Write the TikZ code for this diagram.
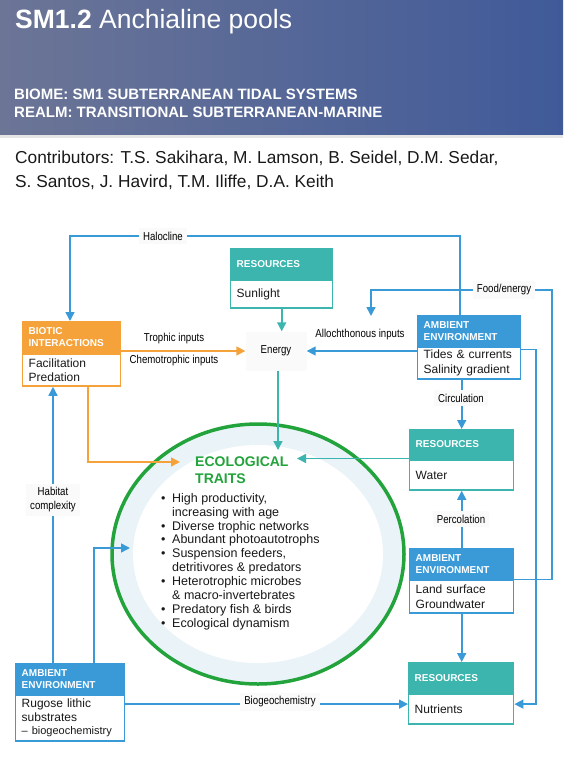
\documentclass[tikz,border=0pt]{standalone}
\usepackage{fontspec}
\setmainfont{Liberation Sans}
\newfontfamily\condfont[FakeStretch=0.84]{Liberation Sans}
\usetikzlibrary{arrows.meta}

\definecolor{envblue}{HTML}{3A9AD8}
\definecolor{resteal}{HTML}{3BB5AD}
\definecolor{bioorange}{HTML}{F5A23B}
\definecolor{traitgreen}{HTML}{23A33B}
\definecolor{ringblue}{HTML}{EAF4F8}
\definecolor{hdleft}{HTML}{6C7596}
\definecolor{hdright}{HTML}{405A99}
\definecolor{lblgray}{HTML}{FAFAFA}

\newcommand\bul{\makebox[11pt][l]{\textbullet}}
\newcommand\ind{\hspace*{11pt}}

\tikzset{
  hd/.style={fill=#1, draw=#1, line width=1.4pt, text=white, anchor=north west, align=left,
    inner sep=0pt, inner xsep=6pt, font=\bfseries\fontsize{10}{12}\selectfont},
  bd/.style={fill=white, draw=#1, line width=1.4pt, text=black!90, anchor=north west, align=left,
    inner sep=0pt, inner xsep=6pt, font=\fontsize{12}{14.5}\selectfont},
  lbl/.style={fill=lblgray, inner sep=4pt, align=center, font=\condfont\fontsize{11.5}{14}\selectfont},
  link/.style={draw=#1, line width=1.6pt, -{Triangle[length=9pt,width=9pt]}},
  link/.default=envblue,
}

\begin{document}
\begin{tikzpicture}[x=1pt,y=-1pt]
\useasboundingbox (0,0) rectangle (563,762);
% header band
\shade[left color=hdleft, right color=hdright] (0,0) rectangle (563,135);
\fill[black!10] (0,135) rectangle (563,138);
\node[anchor=base west, inner sep=0pt, text=white, font=\fontsize{26.5}{30}\selectfont] (title) at (15,29) {\textbf{SM1.2} Anchialine pools};
\node[anchor=base west, inner sep=0pt, text=white, font=\bfseries\fontsize{15}{18}\selectfont] (biome) at (14,100) {BIOME: SM1 SUBTERRANEAN TIDAL SYSTEMS};
\node[anchor=base west, inner sep=0pt, text=white, font=\bfseries\fontsize{15}{18}\selectfont] (realm) at (14,118) {REALM: TRANSITIONAL SUBTERRANEAN-MARINE};
\node[anchor=base west, inner sep=0pt, text=black!90, font=\fontsize{17.3}{23}\selectfont] (contrib1) at (15,164) {Contributors: T.S. Sakihara, M. Lamson, B. Seidel, D.M. Sedar,};
\node[anchor=base west, inner sep=0pt, text=black!90, font=\fontsize{17.3}{23}\selectfont] (contrib2) at (15,187) {S. Santos, J. Havird, T.M. Iliffe, D.A. Keith};

% traits ring
\fill[ringblue] (258,554) ellipse [x radius=146pt, y radius=130pt];
\fill[white] (258,554) ellipse [x radius=125pt, y radius=109pt];
\draw[traitgreen, line width=3.5pt] (258,554) ellipse [x radius=146pt, y radius=130pt];

% boxes
\node[hd=resteal, text width=90pt, minimum height=30pt] (sunhd) at (230,248) {RESOURCES};
\node[bd=resteal, text width=90pt, minimum height=28pt] (sunbd) at (sunhd.south west) {Sunlight};
\node[hd=bioorange, text width=86pt, minimum height=31pt] (biohd) at (22,321) {BIOTIC\\INTERACTIONS};
\node[bd=bioorange, text width=86pt, minimum height=32pt] (biobd) at (biohd.south west) {Facilitation\\Predation};
\node[hd=envblue, text width=91pt, minimum height=30pt] (tidehd) at (417,315) {AMBIENT\\ENVIRONMENT};
\node[bd=envblue, text width=91pt, minimum height=32pt] (tidebd) at (tidehd.south west) {Tides \& currents\\Salinity gradient};
\node[hd=resteal, text width=92pt, minimum height=29pt] (waterhd) at (409,429) {RESOURCES};
\node[bd=resteal, text width=92pt, minimum height=30pt] (waterbd) at (waterhd.south west) {Water};
\node[hd=envblue, text width=92pt, minimum height=30pt] (landhd) at (409,548) {AMBIENT\\ENVIRONMENT};
\node[bd=envblue, text width=92pt, minimum height=33pt] (landbd) at (landhd.south west) {Land surface\\Groundwater};
\node[hd=resteal, text width=93pt, minimum height=30pt] (nutrhd) at (408,662) {RESOURCES};
\node[bd=resteal, text width=93pt, minimum height=30pt] (nutrbd) at (nutrhd.south west) {Nutrients};
\node[hd=envblue, text width=97pt, minimum height=30pt] (rughd) at (15,663) {AMBIENT\\ENVIRONMENT};
\node[bd=envblue, text width=97pt, minimum height=46pt, font=\fontsize{12}{13.5}\selectfont] (rugbd) at (rughd.south west) {Rugose lithic\\substrates\\{\fontsize{11}{13.5}\selectfont -- biogeochemistry}};

\node[lbl, minimum width=61pt, minimum height=39pt] (energy) at (276,351) {Energy};

% free ends
\coordinate (foodin) at (371,316);
\coordinate (etin) at (278,450);
\coordinate (wtin) at (297,458.5);
\coordinate (otin) at (180,462);
\coordinate (rtin) at (130,548);
\coordinate (nin) at ([yshift=5pt]nutrbd.west);

% connectors
\draw[link] ([xshift=43pt]tidehd.north west) -- ++(0,-79) -| ([xshift=48pt]biohd.north west);
\draw[link] (landhd.south east) -| (552,290) -| (foodin);
\draw[link] ([yshift=-3pt]tidebd.north east) -- ++(14.5,0) |- ([yshift=5pt]nutrbd.east);
\draw[link] (tidebd.west |- energy) -- (energy.east);
\draw[link] (waterhd.north |- tidebd.south) -- (waterhd.north);
\draw[link] (landhd.north) -- (waterbd.south);
\draw[link] (landbd.south) -- (landbd.south |- nutrhd.north);
\draw[link=resteal] (sunbd.south) -- (sunbd.south |- energy.north);
\draw[link=resteal] (energy.south -| etin) -- (etin);
\draw[link=resteal] (wtin -| waterhd.west) -- (wtin);
\draw[link=bioorange] (biohd.east |- energy) -- (energy.west);
\draw[link=bioorange] ([xshift=66pt]biobd.south west) |- (otin);
\draw[link] ([xshift=38pt]rughd.north west) -- ([xshift=31pt]biobd.south west);
\draw[link] ([xshift=79pt]rughd.north west) |- (rtin);
\draw[link] (rugbd.east |- nin) -- (nin);

% labels
\node[lbl] (halo) at (163,236) {Halocline};
\node[lbl] (foodlbl) at (504,290) {Food/energy};
\node[lbl, fill=white] (allolbl) at (360,335) {Allochthonous inputs};
\node[lbl] (circ) at (461,398) {Circulation};
\node[lbl] (perc) at (461,519) {Percolation};
\node[lbl] (hab) at (53,500) {Habitat\\complexity};
\node[lbl] (bgc) at (280,702) {Biogeochemistry};
\node[lbl, fill=white] (troph) at (174,339) {Trophic inputs};
\node[lbl, fill=white] (chemo) at (174,361) {Chemotrophic inputs};

% traits text
\node[anchor=north west, inner sep=0pt, align=left, text=traitgreen, font=\bfseries\fontsize{14}{17}\selectfont] (traits) at (195,457) {ECOLOGICAL\\TRAITS};
\node[anchor=north west, inner sep=0pt, align=left, text=black!90, font=\fontsize{12.5}{13.9}\selectfont] (traitlist) at (161,493) {%
\bul High productivity,\\ \ind increasing with age\\
\bul Diverse trophic networks\\
\bul Abundant photoautotrophs\\
\bul Suspension feeders,\\ \ind detritivores \& predators\\
\bul Heterotrophic microbes\\ \ind \& macro-invertebrates\\
\bul Predatory fish \& birds\\
\bul Ecological dynamism};
\end{tikzpicture}
\end{document}
